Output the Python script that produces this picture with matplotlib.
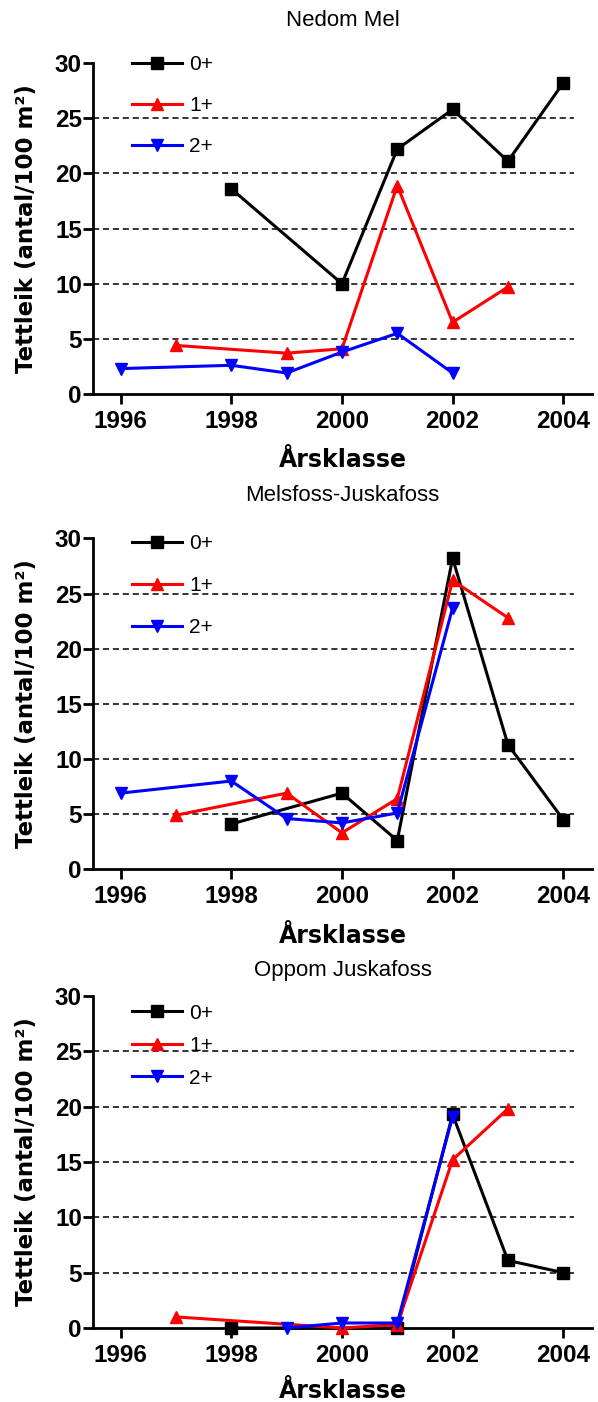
import matplotlib
matplotlib.use("Agg")
import matplotlib.pyplot as plt

plt.rcParams['font.family'] = ['Liberation Sans', 'DejaVu Sans']

# --- data ---
titles = ["Nedom Mel", "Melsfoss-Juskafoss", "Oppom Juskafoss"]
labels = ["0+", "1+", "2+"]

nedom_x0 = [1998, 2000, 2001, 2002, 2003, 2004]
nedom_y0 = [18.6, 10.0, 22.2, 25.8, 21.1, 28.2]
nedom_x1 = [1997, 1999, 2000, 2001, 2002, 2003]
nedom_y1 = [4.4, 3.7, 4.1, 18.9, 6.5, 9.7]
nedom_x2 = [1996, 1998, 1999, 2000, 2001, 2002]
nedom_y2 = [2.3, 2.6, 1.9, 3.8, 5.5, 1.9]

mels_x0 = [1998, 2000, 2001, 2002, 2003, 2004]
mels_y0 = [4.1, 6.9, 2.6, 28.2, 11.3, 4.5]
mels_x1 = [1997, 1999, 2000, 2001, 2002, 2003]
mels_y1 = [4.9, 6.9, 3.3, 6.4, 26.2, 22.8]
mels_x2 = [1996, 1998, 1999, 2000, 2001, 2002]
mels_y2 = [6.9, 8.0, 4.6, 4.2, 5.1, 23.7]

oppom_x0 = [1998, 2001, 2002, 2003, 2004]
oppom_y0 = [0.0, 0.0, 19.3, 6.1, 5.0]
oppom_x1 = [1997, 2000, 2001, 2002, 2003]
oppom_y1 = [1.0, 0.0, 0.3, 15.2, 19.8]
oppom_x2 = [1999, 2000, 2001, 2002]
oppom_y2 = [0.0, 0.45, 0.45, 19.1]

year_ticks = [1996, 1998, 2000, 2002, 2004]
y_ticks = [0, 5, 10, 15, 20, 25, 30]
grid_levels = [5, 10, 15, 20, 25]

panels = [
    [(nedom_x0, nedom_y0), (nedom_x1, nedom_y1), (nedom_x2, nedom_y2)],
    [(mels_x0, mels_y0), (mels_x1, mels_y1), (mels_x2, mels_y2)],
    [(oppom_x0, oppom_y0), (oppom_x1, oppom_y1), (oppom_x2, oppom_y2)],
]

# --- styling / layout ---
colors = ["black", "#ff0000", "#0000ff"]
markers = ["s", "^", "v"]
axes_boxes = [
    [0.1555, 0.719, 0.8345, 0.236],
    [0.1555, 0.380, 0.8345, 0.236],
    [0.1555, 0.0528, 0.8345, 0.2368],
]
title_y = [1.112, 1.112, 1.06]
xlabel_y = [-0.222, -0.222, -0.212]
legend_y = [1.024, 1.012, 0.977]
legend_spacing = [1.06, 1.09, 0.65]

fig = plt.figure(figsize=(5.98, 14.02), dpi=100)

for i, series in enumerate(panels):
    ax = fig.add_axes(axes_boxes[i])
    for (xs, ys), c, m, lab in zip(series, colors, markers, labels):
        ax.plot(xs, ys, color=c, marker=m, markersize=9, linewidth=2.2,
                label=lab, clip_on=False, zorder=4)

    ax.hlines(grid_levels, 1995.5, 2004.2, colors="black", linewidth=1.1,
              linestyles=(0, (4, 2.5)), zorder=1)

    ax.set_xlim(1995.5, 2004.52)
    ax.set_ylim(0, 30)
    ax.set_xticks(year_ticks)
    ax.set_yticks(y_ticks)
    for s in ["top", "right"]:
        ax.spines[s].set_visible(False)
    for s in ["left", "bottom"]:
        ax.spines[s].set_linewidth(2.0)
    ax.tick_params(axis="x", length=7.5, width=2.0, pad=4.0, labelsize=17.5)
    ax.tick_params(axis="y", length=7.0, width=2.0, pad=1.0, labelsize=17.5)
    for t in ax.get_xticklabels() + ax.get_yticklabels():
        t.set_fontweight("bold")

    ax.text(0.5, title_y[i], titles[i], transform=ax.transAxes,
            ha="center", va="baseline", fontsize=16)
    ax.text(0.5, xlabel_y[i], "Årsklasse", transform=ax.transAxes,
            ha="center", va="baseline", fontsize=17, fontweight="bold",
            family="DejaVu Sans")
    ax.text(-0.134, 0.5, "Tettleik (antal/100 m²)", transform=ax.transAxes,
            ha="center", va="center", rotation=90, fontsize=16.5,
            fontweight="bold", family="DejaVu Sans")

    ax.legend(loc="upper left", bbox_to_anchor=(0.078, legend_y[i]),
              frameon=False, fontsize=15, numpoints=1, handlelength=2.4,
              handletextpad=0.35, borderpad=0, borderaxespad=0,
              labelspacing=legend_spacing[i])

fig.savefig("out.png", dpi=100)
